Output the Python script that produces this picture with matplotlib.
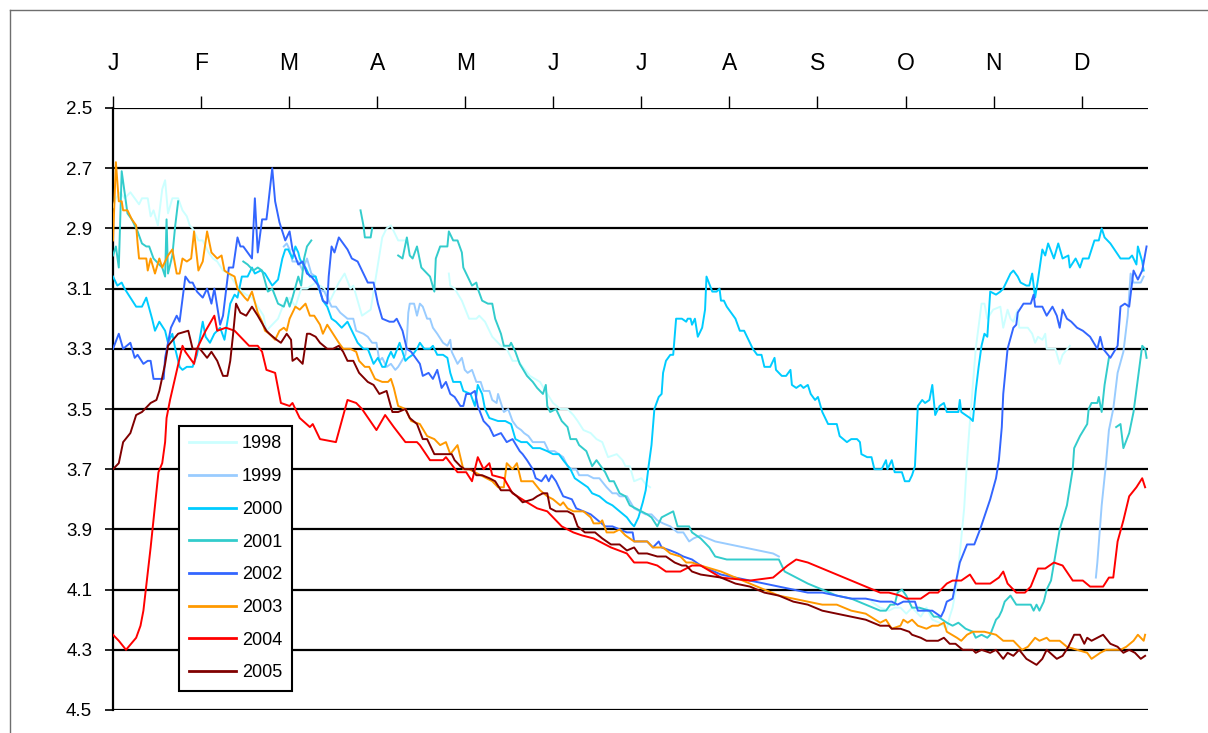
import numpy as np
import matplotlib
matplotlib.use("Agg")
import matplotlib.pyplot as plt
from matplotlib.lines import Line2D

plt.rcParams['font.family'] = ['Liberation Sans', 'DejaVu Sans']

# month labels along the top, y ticks (inverted axis)
months = ['J', 'F', 'M', 'A', 'M', 'J', 'J', 'A', 'S', 'O', 'N', 'D']
yticks = [2.5, 2.7, 2.9, 3.1, 3.3, 3.5, 3.7, 3.9, 4.1, 4.3, 4.5]
years = ['1998', '1999', '2000', '2001', '2002', '2003', '2004', '2005']

# each series: list of segments, each segment a list of (day of year, value)
s1998 = [
    [(0, 2.83), (1, 2.80), (2.5, 2.78), (4, 2.80), (6, 2.78), (7.5, 2.80), (9, 2.82), (10, 2.80), (12, 2.80),
     (13, 2.86), (14, 2.84), (15.5, 2.89), (17, 2.77), (18, 2.74), (19, 2.85), (20.5, 2.80), (22.5, 2.80),
     (24, 2.84), (25.5, 2.86), (26.5, 2.89), (27.5, 2.90), (29.5, 2.94), (31, 2.94), (33, 2.98), (34.5, 3.00),
     (36, 3.01), (38, 3.04), (40, 3.05), (42, 3.08), (44.5, 3.11), (46, 3.12), (48, 3.13), (50, 3.16),
     (52, 3.19), (53, 3.24), (55, 3.22), (57, 3.20), (59, 3.15), (61, 3.13), (63, 3.16), (65, 3.10),
     (67, 3.10), (70, 3.08), (73, 3.10), (75, 3.14), (78, 3.08), (80, 3.05), (82, 3.10), (83, 3.09),
     (86, 3.19), (89, 3.17), (91, 3.05), (93, 2.93), (94.5, 2.90), (96, 2.89), (98.5, 2.94), (101, 2.94)],
    [(116, 3.05), (116.5, 3.09), (118, 3.10), (120.5, 3.14), (123, 3.20), (125.5, 3.20), (126.5, 3.19),
     (128.5, 3.21), (131, 3.26), (134, 3.29), (136, 3.30), (138, 3.34), (140, 3.34), (141.5, 3.36),
     (144, 3.39), (147.5, 3.41), (150, 3.45), (152, 3.48), (154.5, 3.50), (157, 3.50), (159, 3.52),
     (160.5, 3.54), (162.5, 3.57), (165, 3.58), (167, 3.60), (169, 3.61), (171, 3.66), (174, 3.65),
     (176, 3.67), (177, 3.69), (178.5, 3.69), (180, 3.74), (182.5, 3.73), (184, 3.75), (185.5, 3.76)],
    [(262, 4.14), (265, 4.16), (268, 4.17), (270, 4.16), (272, 4.16), (274, 4.18), (276, 4.16), (279, 4.19),
     (281, 4.16), (283, 4.20), (285.5, 4.21), (288, 4.23), (289, 4.19), (290, 4.16), (291.5, 4.08),
     (292.5, 3.98), (294, 3.83), (295, 3.67), (296, 3.54), (297, 3.42), (298, 3.30), (300, 3.15),
     (301, 3.15), (302, 3.20), (304, 3.17), (306.5, 3.16), (307.5, 3.23), (309, 3.17), (310, 3.20),
     (311, 3.21), (312.5, 3.17), (313, 3.23), (314.5, 3.23), (316, 3.23), (317.5, 3.25), (318.5, 3.28),
     (319.5, 3.26), (321, 3.27), (322, 3.25), (322.5, 3.30), (325.5, 3.30), (327, 3.35), (328, 3.32),
     (330.5, 3.29)],
]

s1999 = [
    [(59, 2.96), (60, 2.95), (61, 2.97), (62, 3.01), (64, 3.01), (65.5, 3.04), (67, 3.00), (68.5, 3.05),
     (70, 3.06), (71, 3.10), (73, 3.11), (74, 3.13), (75.5, 3.16), (77, 3.16), (78.5, 3.18), (81, 3.20),
     (83, 3.20), (84, 3.24), (86.5, 3.25), (88, 3.26), (89.5, 3.28), (91, 3.28), (92, 3.34), (93, 3.33),
     (94.5, 3.36), (96, 3.35), (97.5, 3.37), (98.5, 3.36), (101, 3.32), (101.5, 3.27), (102, 3.18),
     (102.5, 3.15), (104, 3.15), (105, 3.19), (106, 3.15), (107, 3.16), (108.5, 3.20), (109.5, 3.20),
     (110.5, 3.23), (112, 3.25), (114, 3.28), (115.5, 3.29), (116.5, 3.27), (117, 3.31), (119, 3.35),
     (120.5, 3.33), (121.5, 3.37), (122.5, 3.38), (124, 3.37), (125.5, 3.41), (127, 3.41), (128, 3.44),
     (130, 3.44), (131, 3.47), (132.5, 3.48), (133, 3.45), (135, 3.51), (136.5, 3.50), (138, 3.54),
     (139.5, 3.56), (141, 3.57), (142, 3.58), (143.5, 3.59), (145, 3.61), (147.5, 3.61), (149, 3.61),
     (150.5, 3.64), (152.5, 3.64), (154, 3.65), (155.5, 3.66), (157, 3.69), (158.5, 3.70), (160, 3.70),
     (161, 3.72), (164, 3.72), (166, 3.73), (168, 3.73), (170.5, 3.76), (172.5, 3.78), (174, 3.78),
     (175, 3.79), (177.5, 3.79), (180, 3.83), (182, 3.84), (184, 3.85), (186, 3.85), (188, 3.87),
     (190, 3.88), (192.5, 3.89), (195, 3.91), (197, 3.91), (199, 3.94), (200.5, 3.93), (203, 3.92),
     (208, 3.94), (213, 3.95), (218, 3.96), (223, 3.97), (228, 3.98), (230, 3.99)],
    [(339.5, 4.06), (340, 4.01), (341.5, 3.82), (343, 3.68), (344, 3.57), (345.5, 3.50), (347, 3.38),
     (349, 3.31), (350.5, 3.19), (351.5, 3.05), (352.5, 3.08), (355, 3.08), (356, 3.06)],
]

s2000 = [
    [(0, 3.06), (1.5, 3.09), (3, 3.08), (4, 3.10), (6, 3.13), (8, 3.16), (10, 3.16), (11.5, 3.13),
     (13.5, 3.20), (14.5, 3.24), (16, 3.21), (18, 3.24), (19, 3.28), (20.5, 3.25), (21.5, 3.30), (23, 3.36),
     (24, 3.37), (25.5, 3.36), (27.5, 3.36), (29, 3.32), (31, 3.21), (32, 3.26), (33.5, 3.28), (35, 3.25),
     (37, 3.23), (38.5, 3.27), (40.5, 3.15), (42, 3.12), (43, 3.13), (44.5, 3.06), (46.5, 3.06), (48, 3.03),
     (49, 3.05), (51, 3.04), (52.5, 3.05), (55, 3.09), (57, 3.07), (58.5, 3.00), (59.5, 2.97), (60.5, 2.97),
     (62, 3.00), (63, 2.96), (64, 2.98), (64.5, 3.00), (65, 3.01), (66.5, 3.03), (68, 3.06), (70, 3.06),
     (71.5, 3.11), (72.5, 3.14), (74, 3.16), (75.5, 3.20), (77, 3.21), (79, 3.23), (81, 3.21), (83, 3.25),
     (84.5, 3.28), (86.5, 3.30), (88, 3.30), (90, 3.35), (91.5, 3.33), (93, 3.36), (94, 3.36), (95, 3.33),
     (96, 3.31), (97, 3.33), (99, 3.28), (101, 3.34), (102, 3.33), (103.5, 3.32), (105, 3.30), (106, 3.28),
     (107.5, 3.30), (109.5, 3.30), (110.5, 3.29), (112, 3.32), (114, 3.32), (115.5, 3.33), (116.5, 3.38),
     (117.5, 3.41), (120, 3.41), (121, 3.44), (123.5, 3.45), (125, 3.49), (126, 3.42), (127.5, 3.45),
     (128.5, 3.50), (130, 3.53), (133, 3.54), (135.5, 3.54), (137.5, 3.55), (139, 3.60), (141, 3.61),
     (143, 3.61), (145, 3.63), (147.5, 3.63), (150, 3.64), (152, 3.65), (154, 3.65), (155.5, 3.67),
     (158, 3.70), (159.5, 3.73), (161, 3.74), (164, 3.76), (165.5, 3.78), (168, 3.79), (170.5, 3.81),
     (172.5, 3.82), (175, 3.84), (177.5, 3.86), (179, 3.88), (180, 3.89), (181.5, 3.86), (183, 3.81),
     (184, 3.77), (185, 3.69), (186, 3.62), (187, 3.50), (188.5, 3.46), (189.5, 3.45), (190, 3.38),
     (191, 3.34), (192.5, 3.32), (193.5, 3.32), (194.5, 3.20), (196.5, 3.20), (198, 3.21), (198.5, 3.20),
     (199.5, 3.20), (200, 3.22), (201, 3.20), (202, 3.26), (203.5, 3.23), (204.5, 3.17), (205, 3.06),
     (207, 3.11), (208.5, 3.11), (209.5, 3.10), (210, 3.14), (211, 3.14), (212, 3.16), (213.5, 3.18),
     (215, 3.20), (216.5, 3.24), (218, 3.24), (219.5, 3.27), (221, 3.30), (222.5, 3.32), (224, 3.32),
     (225, 3.36), (227, 3.36), (228.5, 3.33), (229, 3.37), (231, 3.39), (232.5, 3.39), (234, 3.37),
     (234.5, 3.42), (236, 3.43), (237.5, 3.42), (238.5, 3.43), (240, 3.42), (241, 3.45), (242.5, 3.47),
     (243.5, 3.46), (245, 3.51), (247, 3.55), (250, 3.55), (251, 3.59), (253.5, 3.61), (255, 3.60),
     (257, 3.60), (258, 3.61), (258.5, 3.65), (260.5, 3.66), (262, 3.66), (263, 3.70), (265.5, 3.70),
     (267, 3.67), (267.5, 3.70), (269, 3.67), (270, 3.71), (272.5, 3.71), (273.5, 3.74), (275, 3.74),
     (276, 3.72), (277, 3.69), (278, 3.49), (279.5, 3.47), (280.5, 3.48), (282, 3.47), (283, 3.42),
     (284, 3.52), (285.5, 3.49), (287, 3.48), (288, 3.51), (292, 3.51), (292.5, 3.47), (293, 3.51),
     (294.5, 3.52), (296, 3.53), (297, 3.54), (298, 3.44), (299, 3.36), (300, 3.29), (301, 3.25),
     (302, 3.26), (303, 3.11), (305, 3.12), (306.5, 3.11), (307.5, 3.10), (310, 3.05), (311, 3.04),
     (312.5, 3.06), (313.5, 3.08), (315.5, 3.09), (316.5, 3.09), (317.5, 3.05), (318.5, 3.13), (319.5, 3.07),
     (321, 2.97), (322, 2.99), (323, 2.95), (325, 3.00), (326.5, 2.95), (328, 3.00), (330, 2.99),
     (330.5, 3.03), (332.5, 3.00), (334, 3.03), (335, 3.00), (337, 3.00), (339, 2.94), (340.5, 2.94),
     (341.5, 2.90), (342.5, 2.93), (344.5, 2.95), (348, 3.00), (351, 3.00), (352, 2.99), (353.5, 3.02),
     (354, 2.96), (355.5, 3.01), (356, 3.04)],
]

s2001 = [
    [(0, 2.99), (1, 2.96), (2, 3.03), (3, 2.71), (4, 2.78), (5, 2.85), (6.5, 2.87), (7.5, 2.89), (8.5, 2.91),
     (10, 2.95), (11.5, 2.96), (12.5, 2.96), (14, 3.00), (15, 3.01), (17, 3.03), (18, 3.06), (18.5, 2.87),
     (19, 3.05), (20.5, 2.99), (21.5, 2.89), (22.5, 2.81)],
    [(45, 3.01), (46.5, 3.02), (48.5, 3.04), (50, 3.03), (51.5, 3.04), (53.5, 3.11), (55, 3.10), (57, 3.15),
     (59, 3.16), (60, 3.13), (61, 3.16), (62, 3.13), (64, 3.06), (65, 3.09), (66, 3.00), (67, 2.96),
     (68.5, 2.94)],
    [(85.5, 2.84), (86.5, 2.89), (87, 2.93), (89, 2.93), (89.5, 2.90)],
    [(98.5, 2.99), (100, 3.00), (101.5, 2.93), (102.5, 2.99), (103.5, 3.00), (105, 2.96), (106.5, 3.03),
     (107.5, 3.04), (109.5, 3.06), (111, 3.11), (111.5, 3.00), (113, 2.96), (114.5, 2.96), (115.5, 2.96),
     (116, 2.91), (117.5, 2.94), (119, 2.94), (120.5, 2.98), (121, 3.03), (122.5, 3.06), (124, 3.09),
     (125.5, 3.08), (126, 3.10), (127.5, 3.14), (129.5, 3.15), (131, 3.15), (132, 3.20), (134, 3.25),
     (135, 3.29), (137, 3.29), (137.5, 3.28), (139, 3.31), (140.5, 3.35), (143, 3.39), (145, 3.41),
     (146.5, 3.43), (148.5, 3.45), (149.5, 3.42), (150, 3.49), (151, 3.51), (153, 3.50), (154.5, 3.53),
     (155, 3.54), (157, 3.56), (158, 3.60), (160, 3.60), (161, 3.62), (163.5, 3.64), (165.5, 3.69),
     (167, 3.67), (168.5, 3.69), (170, 3.71), (171.5, 3.74), (173, 3.74), (175, 3.78), (177, 3.79),
     (178.5, 3.82), (180.5, 3.83), (182.5, 3.84), (184.5, 3.85), (186, 3.86), (188, 3.89), (189.5, 3.86),
     (193.5, 3.84), (195, 3.89), (199, 3.89), (200, 3.91), (203, 3.93), (206, 3.96), (208, 3.99),
     (212, 4.00), (220, 4.00), (228, 4.00), (230, 4.00), (232, 4.04), (236, 4.06), (240, 4.08),
     (245, 4.10), (250, 4.12), (255, 4.13), (260, 4.15), (265, 4.17), (267, 4.17), (268.5, 4.15),
     (270, 4.15), (271, 4.11), (272.5, 4.10), (274, 4.12), (276, 4.16), (278.5, 4.16), (282, 4.17),
     (283.5, 4.19), (285, 4.19), (288, 4.21), (290, 4.22), (292, 4.21), (294.5, 4.23), (297, 4.24),
     (298, 4.26), (300, 4.25), (302, 4.26), (303, 4.25), (305, 4.20), (306, 4.19), (307, 4.17),
     (308, 4.14), (310, 4.12), (312, 4.15), (314, 4.15), (317, 4.15), (318, 4.17), (319, 4.15),
     (320, 4.17), (321.5, 4.14), (322.5, 4.10), (324, 4.07), (327, 3.90), (329.5, 3.82), (331.5, 3.70),
     (332, 3.63), (334, 3.59), (336.5, 3.55), (337, 3.50), (338, 3.48), (340, 3.48), (340.5, 3.46),
     (341.5, 3.51), (342.5, 3.42), (344, 3.33)],
    [(346.5, 3.56), (348, 3.55), (349, 3.63), (351, 3.58), (352.5, 3.51), (354, 3.40), (355.5, 3.29),
     (356.5, 3.30), (357, 3.33)],
]

s2002 = [
    [(0, 3.30), (2, 3.25), (3.5, 3.30), (6, 3.28), (7.5, 3.33), (8.5, 3.32), (10.5, 3.35), (12, 3.34),
     (13, 3.34), (14, 3.40), (17.5, 3.40), (18, 3.33), (20, 3.23), (22, 3.19), (23, 3.21), (25, 3.06),
     (26.5, 3.08), (27.5, 3.08), (29, 3.11), (31, 3.13), (32.5, 3.10), (34, 3.15), (35, 3.10), (37, 3.22),
     (38, 3.19), (40, 3.03), (41.5, 3.03), (43, 2.93), (44, 2.96), (45, 2.96), (48, 3.00), (49, 2.80),
     (50, 2.98), (51.5, 2.87), (53, 2.87), (53.5, 2.83), (55, 2.70), (56, 2.81), (57.5, 2.88), (59.5, 2.94),
     (61, 2.91), (62, 2.97), (64, 3.02), (65.5, 3.01), (67, 3.05), (68.5, 3.06), (71, 3.09), (72.5, 3.14),
     (74, 3.15), (74.5, 3.06), (75.5, 2.96), (76.5, 2.98), (78, 2.93), (79.5, 2.95), (81, 2.97),
     (82.5, 3.00), (84.5, 3.01), (86.5, 3.05), (88, 3.08), (90, 3.08), (91.5, 3.15), (93, 3.20),
     (95.5, 3.21), (97, 3.21), (98, 3.20), (100, 3.24), (101.5, 3.30), (103, 3.31), (106, 3.35),
     (107, 3.39), (109, 3.38), (110.5, 3.40), (112, 3.37), (113.5, 3.43), (115, 3.41), (116.5, 3.45),
     (118, 3.46), (120, 3.49), (121, 3.49), (122, 3.45), (123.5, 3.45), (125, 3.44), (126, 3.49),
     (128, 3.54), (130, 3.56), (131.5, 3.59), (134, 3.58), (136, 3.61), (138, 3.60), (140.5, 3.64),
     (141.5, 3.65), (143, 3.67), (145, 3.70), (146, 3.73), (148, 3.74), (149.5, 3.72), (150.5, 3.74),
     (151.5, 3.72), (153, 3.74), (155.5, 3.79), (158.5, 3.80), (160, 3.83), (162.5, 3.84), (165, 3.85),
     (167.5, 3.87), (170, 3.89), (172.5, 3.89), (175, 3.90), (177.5, 3.91), (179.5, 3.91), (180, 3.94),
     (184.5, 3.94), (186.5, 3.96), (188.5, 3.94), (189.5, 3.96), (192.5, 3.97), (195, 3.98), (197, 3.99),
     (200, 4.00), (203, 4.02), (210, 4.05), (215, 4.06), (220, 4.07), (225, 4.08), (230, 4.09),
     (235, 4.10), (240, 4.11), (245, 4.11), (250, 4.12), (255, 4.13), (260, 4.13), (265, 4.14),
     (269, 4.14), (271, 4.15), (273, 4.14), (277, 4.14), (278, 4.17), (282, 4.17), (283, 4.17),
     (286, 4.19), (287, 4.17), (288, 4.14), (290, 4.13), (292.5, 4.01), (295, 3.95), (297.5, 3.95),
     (299.5, 3.90), (303, 3.80), (305, 3.73), (306, 3.67), (307, 3.56), (307.5, 3.45), (309, 3.30),
     (311, 3.23), (312, 3.22), (312.5, 3.18), (314.5, 3.15), (317, 3.15), (318, 3.12), (318.5, 3.16),
     (321, 3.16), (322.5, 3.19), (324.5, 3.16), (326, 3.19), (327, 3.23), (328, 3.17), (329.5, 3.20),
     (331, 3.21), (333, 3.23), (335, 3.24), (337.5, 3.26), (340, 3.30), (341, 3.26), (342, 3.30),
     (344.5, 3.33), (347, 3.29), (348, 3.16), (349.5, 3.15), (351, 3.16), (352.5, 3.04), (354, 3.07),
     (355.5, 3.04), (357, 2.96)],
]

s2003 = [
    [(0, 2.94), (1, 2.68), (2, 2.81), (3, 2.81), (3.5, 2.84), (5, 2.84), (6.5, 2.87), (8, 2.89), (8.5, 2.95),
     (9, 3.00), (11.5, 3.00), (12, 3.04), (13, 3.00), (14.5, 3.05), (16, 3.00), (17, 3.03), (19, 2.99),
     (20.5, 2.97), (22, 3.05), (23, 3.05), (24, 3.00), (25.5, 3.01), (27, 3.00), (28, 2.91), (29.5, 3.04),
     (31, 3.01), (32.5, 2.91), (34, 2.98), (36, 3.00), (37.5, 2.99), (38.5, 3.04), (40, 3.05), (42, 3.06),
     (43, 3.10), (45.5, 3.13), (46.5, 3.14), (48, 3.11), (50, 3.18), (51.5, 3.21), (52.5, 3.24), (54, 3.25),
     (56, 3.27), (57.5, 3.24), (59, 3.23), (60, 3.24), (61, 3.20), (63, 3.16), (64.5, 3.17), (66.5, 3.15),
     (68, 3.19), (69.5, 3.19), (71.5, 3.22), (72.5, 3.25), (74, 3.22), (76, 3.25), (78, 3.28), (79.5, 3.30),
     (82, 3.30), (84, 3.31), (85, 3.34), (87, 3.36), (88.5, 3.36), (90.5, 3.40), (93, 3.41), (95, 3.41),
     (96, 3.40), (97, 3.43), (98.5, 3.49), (101, 3.50), (103, 3.54), (106, 3.55), (108.5, 3.59), (111, 3.60),
     (113, 3.62), (115, 3.61), (116.5, 3.65), (119, 3.62), (121, 3.70), (123, 3.70), (125, 3.71),
     (127, 3.72), (129, 3.73), (131, 3.74), (133, 3.76), (135, 3.76), (136, 3.68), (138, 3.70),
     (139.5, 3.68), (140.5, 3.72), (141, 3.74), (145, 3.74), (147.5, 3.77), (150, 3.79), (152, 3.80),
     (154.5, 3.82), (155.5, 3.81), (157, 3.83), (159, 3.84), (162.5, 3.84), (165, 3.86), (166, 3.88),
     (168, 3.88), (169, 3.87), (170.5, 3.91), (173, 3.91), (175, 3.90), (177, 3.92), (178.5, 3.93),
     (180, 3.94), (184.5, 3.94), (186.5, 3.96), (190, 3.96), (192.5, 3.98), (196, 3.99), (198, 4.01),
     (200, 4.01), (203, 4.02), (210, 4.04), (215, 4.06), (220, 4.08), (225, 4.10), (230, 4.12),
     (235, 4.13), (240, 4.14), (245, 4.15), (250, 4.15), (255, 4.17), (260, 4.18), (265, 4.21),
     (267, 4.20), (269, 4.23), (272, 4.22), (273, 4.20), (274.5, 4.21), (276, 4.20), (278, 4.22),
     (281, 4.23), (283, 4.22), (285, 4.22), (287, 4.21), (288, 4.24), (291.5, 4.26), (293, 4.27),
     (295, 4.25), (297, 4.24), (299, 4.24), (301, 4.24), (305, 4.25), (307.5, 4.27), (310, 4.27),
     (311, 4.27), (314, 4.30), (316, 4.29), (318.5, 4.26), (320, 4.27), (322.5, 4.26), (323.5, 4.27),
     (325, 4.27), (327, 4.27), (329.5, 4.29), (333, 4.30), (336.5, 4.31), (338, 4.33), (341, 4.31),
     (343, 4.30), (348, 4.30), (350, 4.29), (352.5, 4.27), (354, 4.25), (356, 4.27), (356.5, 4.25)],
]

s2004 = [
    [(0, 4.25), (2, 4.27), (4.5, 4.30), (8, 4.26), (9.5, 4.22), (10.5, 4.17), (13, 3.96), (15.7, 3.71),
     (17, 3.68), (18, 3.61), (18.5, 3.53), (19.7, 3.47), (24, 3.29), (25, 3.31), (28, 3.35), (29, 3.30),
     (32, 3.24), (35, 3.19), (36, 3.24), (39, 3.23), (42, 3.24), (47, 3.29), (50, 3.29), (51.5, 3.31),
     (53, 3.37), (56, 3.38), (58, 3.48), (61, 3.49), (62, 3.48), (64.5, 3.53), (68, 3.56), (69, 3.55),
     (71.5, 3.60), (77, 3.61), (81, 3.47), (84, 3.48), (86, 3.50), (91, 3.57), (94, 3.52), (97, 3.56),
     (101, 3.61), (105, 3.61), (106, 3.62), (109.5, 3.67), (114, 3.67), (115, 3.66), (119, 3.71),
     (122, 3.71), (124, 3.74), (126, 3.66), (128, 3.70), (130, 3.68), (131, 3.72), (135, 3.73),
     (138, 3.78), (143, 3.81), (146.5, 3.83), (150, 3.84), (155, 3.89), (159, 3.91), (162, 3.92),
     (166, 3.93), (172, 3.96), (177.5, 3.98), (180, 4.01), (184.5, 4.01), (188, 4.02), (191, 4.04),
     (196, 4.04), (200, 4.02), (203, 4.02), (210, 4.06), (220, 4.07), (228, 4.06), (233, 4.02),
     (236, 4.00), (240, 4.01), (245, 4.03), (250, 4.05), (255, 4.07), (260, 4.09), (265, 4.11),
     (268, 4.11), (272, 4.12), (274, 4.13), (279, 4.13), (282, 4.11), (285, 4.11), (288, 4.08),
     (290, 4.07), (293, 4.07), (296, 4.05), (298, 4.08), (303, 4.08), (306, 4.06), (307.5, 4.04),
     (309, 4.08), (312, 4.11), (315, 4.11), (317, 4.09), (319.5, 4.03), (322, 4.03), (325, 4.01),
     (328, 4.02), (331.5, 4.07), (335, 4.07), (337.5, 4.09), (342, 4.09), (344, 4.06), (345.5, 4.06),
     (347, 3.94), (349, 3.87), (351, 3.79), (353.5, 3.76), (355.5, 3.73), (356.5, 3.76)],
]

s2005 = [
    [(0, 3.70), (2, 3.68), (3.5, 3.61), (6, 3.58), (8, 3.52), (10, 3.51), (13, 3.48), (15, 3.47), (16, 3.44),
     (18, 3.35), (19, 3.29), (22.5, 3.25), (26, 3.24), (26.5, 3.26), (27.5, 3.30), (30, 3.30), (32.5, 3.33),
     (34, 3.31), (36, 3.34), (38, 3.39), (39.5, 3.39), (40.5, 3.34), (41.5, 3.25), (42.5, 3.15), (44, 3.18),
     (46, 3.19), (48, 3.16), (50, 3.19), (53, 3.24), (54, 3.25), (56.5, 3.27), (58, 3.28), (60, 3.25),
     (61.5, 3.27), (62, 3.34), (63.5, 3.33), (65.5, 3.35), (67, 3.25), (68, 3.25), (70, 3.26), (71.5, 3.28),
     (74, 3.30), (76, 3.30), (78, 3.29), (79.5, 3.31), (81, 3.34), (83, 3.34), (85, 3.38), (88, 3.41),
     (90, 3.42), (92, 3.45), (94.5, 3.44), (96.5, 3.51), (98.5, 3.51), (101, 3.50), (102.5, 3.53),
     (105, 3.55), (107, 3.60), (108.5, 3.60), (111, 3.65), (114, 3.65), (117, 3.65), (118, 3.67),
     (120, 3.69), (121.5, 3.70), (124, 3.70), (125.5, 3.72), (127.5, 3.72), (130, 3.73), (132, 3.74),
     (134, 3.77), (137, 3.77), (139.5, 3.79), (141.5, 3.81), (145, 3.80), (146.5, 3.79), (148.5, 3.78),
     (150, 3.78), (151, 3.83), (153, 3.84), (157, 3.84), (159, 3.85), (160.5, 3.89), (163, 3.91),
     (166.5, 3.91), (169, 3.93), (172, 3.95), (175, 3.95), (177.5, 3.97), (180, 3.96), (181.5, 3.98),
     (184.5, 3.98), (188, 3.99), (191, 3.99), (194, 4.01), (196.5, 4.02), (198, 4.02), (200, 4.04),
     (203, 4.05), (210, 4.06), (215, 4.08), (220, 4.09), (225, 4.11), (230, 4.12), (235, 4.14),
     (240, 4.15), (245, 4.17), (250, 4.18), (255, 4.19), (260, 4.20), (265, 4.22), (268, 4.22),
     (269, 4.23), (272, 4.23), (275, 4.24), (276, 4.25), (279, 4.26), (281, 4.27), (285, 4.27),
     (287, 4.26), (289, 4.28), (291, 4.28), (293.5, 4.30), (297, 4.30), (298, 4.31), (300, 4.30),
     (303, 4.31), (305, 4.30), (307.5, 4.33), (309, 4.31), (311, 4.32), (313, 4.30), (315.5, 4.33),
     (319, 4.35), (321, 4.33), (322.5, 4.30), (326, 4.33), (328, 4.32), (330, 4.29), (332, 4.25),
     (334, 4.25), (335.5, 4.28), (336.5, 4.26), (338, 4.27), (340, 4.26), (342, 4.25), (344.5, 4.28),
     (347, 4.29), (349, 4.31), (351, 4.30), (353, 4.31), (355, 4.33), (356.5, 4.32)],
]

series = [s1998, s1999, s2000, s2001, s2002, s2003, s2004, s2005]
colors = ['#CCFFFF', '#99CCFF', '#00CCFF', '#33CCCC', '#3366FF', '#FF9900', '#FF0000', '#800000']


def to_xy(segments):
    xs, ys = [], []
    for seg in segments:
        d, v = zip(*seg)
        xs += list(d) + [np.nan]
        ys += list(v) + [np.nan]
    return xs, ys


fig = plt.figure(figsize=(12.08, 7.33), dpi=100)
ax = fig.add_axes([113 / 1208, 1 - 710 / 733, 1035 / 1208, 602 / 733])

for name, segs, col in zip(years, series, colors):
    xs, ys = to_xy(segs)
    ax.plot(xs, ys, color=col, lw=1.4, label=name, zorder=3)

ax.set_xlim(0, 357.5)
ax.set_ylim(4.5, 2.5)

# months evenly spaced along top
ax.xaxis.tick_top()
ax.set_xticks([i * 365 / 12 for i in range(12)])
ax.set_xticklabels(months, fontsize=16.5)
ax.tick_params(axis='x', direction='out', length=8.5, width=1, pad=15.5, colors='black')

ax.set_yticks(yticks)
ax.set_yticklabels(['%.1f' % t for t in yticks], fontsize=13.5)
ax.tick_params(axis='y', direction='out', length=6, width=1.2, pad=9)

ax.yaxis.grid(True, color='black', lw=1.6, zorder=1)
ax.set_axisbelow(True)
for side in ['top', 'right', 'bottom']:
    ax.spines[side].set_visible(False)
ax.spines['left'].set_linewidth(1.6)
ax.spines['left'].set_color('black')

leg = ax.legend(loc='lower left', bbox_to_anchor=(0.0635, 0.031), fontsize=13, frameon=True,
                fancybox=False, framealpha=1, edgecolor='black', handlelength=2.6,
                handletextpad=0.35, labelspacing=0.87, borderpad=0.55, borderaxespad=0)
leg.get_frame().set_linewidth(1.5)
for h in leg.get_lines():
    h.set_linewidth(2)

# outer chart border (left and top edges visible)
fig.add_artist(Line2D([9.5 / 1208, 9.5 / 1208], [0, 1 - 10 / 733], transform=fig.transFigure,
                      color='#6e6e6e', lw=1))
fig.add_artist(Line2D([9.5 / 1208, 1], [1 - 10 / 733, 1 - 10 / 733], transform=fig.transFigure,
                      color='#6e6e6e', lw=1))

fig.savefig('out.png', dpi=100)
